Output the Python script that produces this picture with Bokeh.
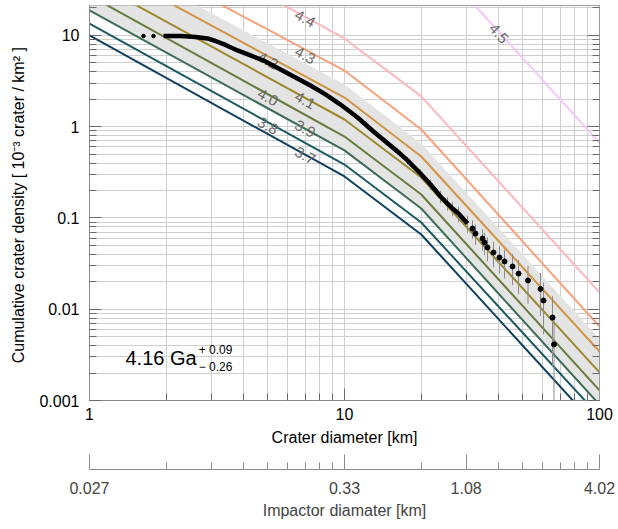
import math
from bokeh.plotting import figure
from bokeh.models import (LogAxis, FixedTicker, CustomJSTickFormatter, Label, Range1d)
from bokeh.embed import file_html
from bokeh.resources import INLINE
from bokeh.core.properties import value

# ---------------- data ----------------
iso_diam = [1, 10, 20, 100]                     # km
ages = ["3.7", "3.8", "3.9", "4.0", "4.1", "4.2", "4.3", "4.4", "4.5"]
iso_37 = [10.0, 0.285, 0.0659, 0.00048]
iso_38 = [13.5, 0.385, 0.0893, 0.00067]
iso_39 = [18.8, 0.55, 0.127, 0.00090]
iso_40 = [27.4, 0.78, 0.181, 0.00129]
iso_41 = [41.0, 1.20, 0.278, 0.00203]
iso_42 = [68.0, 2.09, 0.472, 0.00344]
iso_43 = [128.0, 4.13, 0.933, 0.00647]
iso_44 = [317.0, 9.27, 2.15, 0.0153]
iso_45 = [14000.0, 408.0, 94.5, 0.67]
band_upper = [92.0, 2.9, 0.655, 0.00477]       # 4.25 Ga
band_lower = [18.8, 0.55, 0.127, 0.00090]      # 3.90 Ga

lead_diam = [1.628, 1.782]
lead_dens = [9.87, 9.87]
dense_diam = [1.951, 2.274, 2.604, 2.902, 3.120, 3.415, 3.805, 4.279, 4.899,
              5.611, 6.424, 7.356, 8.424, 9.645, 11.25, 12.99, 14.48, 16.14,
              17.66, 19.86, 21.75, 23.80, 25.34, 26.52, 28.00, 30.37]
dense_dens = [9.87, 9.87, 9.63, 9.27, 8.70, 7.87, 6.85, 6.04, 5.19,
              4.24, 3.47, 2.83, 2.26, 1.75, 1.26, 0.887, 0.689, 0.536,
              0.427, 0.307, 0.233, 0.172, 0.144, 0.127, 0.112, 0.0870]
point_diam = [31.77, 32.64, 34.77, 35.40, 36.37, 38.40, 40.53, 42.41, 45.60,
              48.13, 52.44, 58.70, 60.32, 65.42, 66.32]
point_dens = [0.0767, 0.0676, 0.0596, 0.0539, 0.0475, 0.0419, 0.0369, 0.0334,
              0.0294, 0.0246, 0.0207, 0.01667, 0.01247, 0.00812, 0.00411]
count_area_km2 = 244000.0

fit_age = "4.16 Ga"
fit_plus = "+ 0.09"
fit_minus = "\u2212 0.26"

x_ticks = [1, 10, 100]
y_ticks = [0.001, 0.01, 0.1, 1, 10]
impactor_ticks = [1, 10, 30, 100]
impactor_labels = ["0.027", "0.33", "1.08", "4.02"]

# ---------------- styles / layout ----------------
FONT = "Liberation Sans"
iso_colors = ["#103F60", "#1C5A62", "#3C6D56", "#687B3E", "#9D892B",
              "#D29343", "#F8A17B", "#FDB7BC", "#F5C6F8"]
label_diam = [7.0, 5.0, 7.0, 5.0, 7.0, 5.0, 7.0, 7.0, 40.2]
label_dens = [0.484, 1.02, 0.948, 2.10, 1.94, 5.32, 6.04, 15.3, 10.5]
label_angle = [-0.50] * 8 + [-0.84]

x_minor = [m * 10 ** k for k in range(0, 2) for m in range(2, 10)]
y_minor = [m * 10 ** k for k in range(-3, 2) for m in range(2, 10)]

p = figure(frame_width=510, frame_height=395,
           x_axis_type="log", y_axis_type="log",
           x_range=Range1d(1, 100), y_range=Range1d(0.001, 21.3),
           output_backend="svg", toolbar_location=None,
           min_border_left=89, min_border_right=19,
           min_border_top=5, min_border_bottom=0,
           outline_line_color="#9a9a9a")
p.background_fill_color = "white"

for g in (p.xgrid, p.ygrid):
    g.grid_line_color = "#cfcfcf"
    g.minor_grid_line_color = "#cfcfcf"
    g.grid_line_width = 1

# error band
p.varea(x=iso_diam, y1=band_lower, y2=band_upper, fill_color="#e4e4e4")

# isochrons
iso_all = [iso_37, iso_38, iso_39, iso_40, iso_41, iso_42, iso_43, iso_44, iso_45]
for vals, col in zip(iso_all, iso_colors):
    p.line(iso_diam, vals, line_color=col, line_width=2)

p.text(x=label_diam, y=label_dens, text=ages, angle=label_angle,
       text_font=value(FONT), text_font_size="15px", text_color="#6a6a6a",
       text_align="center", text_baseline="middle")

# error bars (Poisson)
all_diam = dense_diam + point_diam
all_dens = dense_dens + point_dens
lo, hi = [], []
for d in all_dens:
    n = d * 1e-3 * count_area_km2
    e = d / math.sqrt(n)
    lo.append(max(d - e, 1e-5))
    hi.append(d + e)
p.segment(x0=all_diam, y0=lo, x1=all_diam, y1=hi, line_color="#8a8a8a", line_width=1)

# data
p.line(dense_diam, dense_dens, line_color="black", line_width=4.5, line_join="round")
p.scatter(lead_diam, lead_dens, size=3.5, color="black")
p.scatter(point_diam, point_dens, size=5, color="black")

# fit annotation
p.add_layout(Label(x=1.384, y=0.00290, text=fit_age, text_font=FONT,
                   text_font_size="20px", text_baseline="middle", text_color="black"))
p.add_layout(Label(x=2.68, y=0.00355, text=fit_plus, text_font=FONT,
                   text_font_size="12px", text_baseline="middle", text_color="black"))
p.add_layout(Label(x=2.68, y=0.00230, text=fit_minus, text_font=FONT,
                   text_font_size="12px", text_baseline="middle", text_color="black"))

num_fmt = CustomJSTickFormatter(code="return tick.toString();")
blank_fmt = CustomJSTickFormatter(code="return '';")

xa = p.xaxis[0]
xa.ticker = FixedTicker(ticks=x_ticks, minor_ticks=x_minor)
xa.formatter = num_fmt
ya = p.yaxis[0]
ya.ticker = FixedTicker(ticks=y_ticks, minor_ticks=y_minor)
ya.formatter = num_fmt

for ax in (xa, ya):
    ax.major_tick_in = 12
    ax.major_tick_out = 0
    ax.minor_tick_in = 7
    ax.minor_tick_out = 0
    ax.axis_line_color = "#8c8c8c"
    ax.major_tick_line_color = "#6a6a6a"
    ax.minor_tick_line_color = "#6a6a6a"
    ax.major_label_text_font = FONT
    ax.major_label_text_font_size = "16px"
    ax.major_label_text_color = "black"
    ax.axis_label_text_font = FONT
    ax.axis_label_text_font_size = "16px"
    ax.axis_label_text_font_style = "normal"
    ax.axis_label_text_color = "black"

xa.axis_label = "Crater diameter [km]"
xa.major_label_standoff = 7
xa.axis_label_standoff = 6
ya.axis_label = "Cumulative crater density  [ 10\u207b\u00b3 crater / km\u00b2 ]"
ya.major_label_standoff = 10
ya.axis_label_standoff = 9

# mirrored right axis (ticks only)
ra = LogAxis(ticker=FixedTicker(ticks=y_ticks, minor_ticks=y_minor), formatter=blank_fmt,
             major_tick_in=12, major_tick_out=0, minor_tick_in=7, minor_tick_out=0,
             major_label_standoff=0, axis_line_color="#9a9a9a",
             major_tick_line_color="#6a6a6a", minor_tick_line_color="#6a6a6a")
p.add_layout(ra, "right")

# spacer between the two bottom axes
sp = LogAxis(ticker=FixedTicker(ticks=[1], minor_ticks=[]), formatter=blank_fmt,
             axis_line_color=None, major_tick_out=21, major_tick_in=0,
             minor_tick_out=0, minor_tick_in=0, major_label_standoff=0,
             major_tick_line_color=None, minor_tick_line_color=None)
p.add_layout(sp, "below")

# impactor axis
ia = LogAxis(ticker=FixedTicker(ticks=impactor_ticks, minor_ticks=x_minor),
             formatter=CustomJSTickFormatter(args=dict(pos=impactor_ticks, lab=impactor_labels),
                                             code="const i = pos.indexOf(tick); return i >= 0 ? lab[i] : '';"),
             major_tick_in=15, major_tick_out=0, minor_tick_in=7, minor_tick_out=0,
             axis_line_color="#8c8c8c", major_tick_line_color="#8c8c8c",
             minor_tick_line_color="#8c8c8c",
             major_label_text_font=FONT, major_label_text_font_size="16px",
             major_label_standoff=12,
             axis_label="Impactor diamater [km]", axis_label_text_font=FONT,
             axis_label_text_font_size="16px", axis_label_text_font_style="normal",
             axis_label_standoff=5)
p.add_layout(ia, "below")

open("out.html", "w").write(file_html(p, INLINE))
